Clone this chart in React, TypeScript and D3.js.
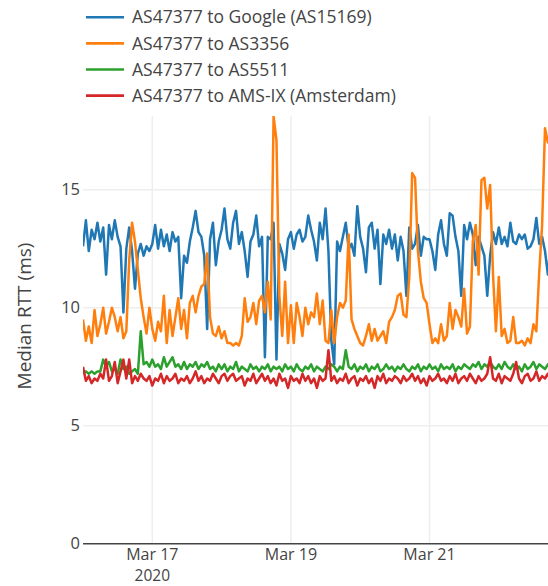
import React from "react";
import * as d3 from "d3";

const START = Date.UTC(2020, 2, 16, 0, 0);
const END = Date.UTC(2020, 2, 23, 0, 0);
const STEP_MS = 3600 * 1000;

const seriesNames = [
  "AS47377 to Google (AS15169)",
  "AS47377 to AS3356",
  "AS47377 to AS5511",
  "AS47377 to AMS-IX (Amsterdam)",
];
const seriesColors = ["#1f77b4", "#ff7f0e", "#2ca02c", "#d62728"];

const google = [
  12.6, 13.7, 12.4, 13.3, 12.9, 13.6, 12.8, 13.4, 11.4, 13.5, 12.9, 13.7, 13.0, 12.6, 9.8, 12.5, 13.4, 12.4, 10.8, 12.3,
  12.7, 12.2, 12.6, 12.4, 12.7, 13.5, 12.5, 13.3, 12.6, 13.1, 12.4, 13.2, 12.8, 13.0, 10.4, 12.2, 11.9, 12.8, 13.4, 14.1,
  13.2, 13.0, 12.2, 9.1, 12.9, 13.6, 11.8, 12.8, 13.3, 14.2, 12.9, 12.5, 13.6, 14.1, 12.7, 13.2, 12.4, 11.3, 12.8, 13.1,
  13.9, 12.6, 13.0, 7.9, 13.0, 12.9, 13.6, 7.8, 12.7, 12.3, 11.6, 12.9, 13.2, 12.5, 13.1, 13.3, 12.8, 13.0, 13.9, 13.3,
  12.8, 12.0, 13.6, 12.9, 14.2, 12.4, 8.6, 7.6, 12.8, 12.4, 13.0, 13.6, 12.5, 12.7, 12.2, 14.3, 13.0, 12.5, 11.5, 13.4,
  13.6, 12.5, 13.3, 11.0, 13.1, 12.7, 13.3, 12.5, 13.1, 12.0, 13.0, 12.4, 10.5, 13.4, 12.5, 12.7, 13.5, 12.2, 13.0, 12.9,
  12.9, 12.4, 11.6, 13.1, 13.7, 12.7, 12.2, 14.0, 13.9, 13.0, 12.4, 10.5, 13.5, 12.9, 13.6, 13.1, 11.8, 13.0, 12.6, 12.2,
  10.5, 12.2, 13.2, 12.7, 13.4, 12.7, 13.0, 12.6, 13.6, 12.8, 12.7, 13.1, 12.9, 13.1, 12.5, 12.6, 12.9, 13.8, 12.7, 13.0,
  12.4, 11.4, 12.8, 13.0, 12.7,
];

const as3356 = [
  9.5, 8.6, 9.2, 8.5, 9.9, 8.8, 9.3, 10.0, 8.9, 9.4, 10.0, 9.6, 9.0, 9.6, 8.7, 9.0, 12.0, 13.6, 12.8, 11.6,
  10.4, 9.6, 8.9, 10.0, 9.1, 8.6, 9.4, 9.0, 10.5, 8.5, 9.9, 8.8, 9.6, 10.4, 9.1, 9.9, 8.7, 10.2, 10.5, 9.8,
  10.5, 10.9, 11.0, 12.3, 9.6, 8.9, 8.8, 9.2, 8.7, 9.0, 8.5, 8.5, 8.4, 8.5, 8.4, 8.8, 10.4, 9.4, 9.6, 10.2,
  9.3, 10.3, 10.5, 9.8, 11.1, 9.5, 18.1, 17.1, 10.5, 8.8, 11.1, 8.5, 10.1, 8.5, 10.2, 9.6, 8.8, 10.0, 9.3, 9.8,
  9.6, 10.6, 9.3, 10.3, 8.6, 8.5, 9.9, 8.5, 9.6, 10.2, 10.0, 10.3, 13.1, 9.5, 9.1, 8.8, 8.5, 8.4, 8.8, 9.3,
  8.6, 9.1, 8.6, 8.8, 9.0, 8.5, 9.4, 9.6, 9.9, 10.5, 10.6, 9.7, 9.6, 11.3, 15.7, 15.5, 12.4, 11.1, 10.4, 10.2,
  9.3, 8.5, 8.7, 8.5, 9.3, 8.6, 8.8, 10.2, 9.1, 9.9, 9.6, 9.2, 10.8, 8.9, 9.2, 12.8, 13.5, 11.4, 15.4, 15.5,
  14.2, 15.2, 11.4, 9.0, 11.3, 8.8, 9.1, 8.5, 8.6, 9.6, 8.5, 8.5, 8.6, 8.4, 8.7, 8.5, 9.3, 9.0, 11.5, 13.5,
  17.6, 17.0, 17.2, 16.8, 17.1,
];

const as5511 = [
  7.2, 7.3, 7.2, 7.3, 7.2, 7.3, 7.3, 7.8, 7.5, 7.7, 7.3, 7.4, 7.2, 7.8, 7.4, 7.5, 7.2, 7.3, 7.4, 7.2,
  9.0, 7.6, 7.7, 7.5, 7.8, 7.5, 7.6, 7.4, 7.9, 7.5, 7.7, 7.9, 7.5, 7.6, 7.4, 7.7, 7.4, 7.6, 7.5, 7.7,
  7.4, 7.6, 7.5, 7.7, 7.4, 7.5, 7.3, 7.6, 7.4, 7.6, 7.3, 7.5, 7.4, 7.7, 7.3, 7.5, 7.4, 7.3, 7.6, 7.4,
  7.5, 7.3, 7.5, 7.4, 7.6, 7.3, 7.5, 7.4, 7.5, 7.3, 7.6, 7.4, 7.5, 7.3, 7.6, 7.4, 7.3, 7.5, 7.4, 7.6,
  7.3, 7.5, 7.4, 7.3, 7.5, 7.4, 7.6, 7.5, 7.3, 7.5, 7.4, 8.2, 7.5, 7.4, 7.6, 7.3, 7.5, 7.4, 7.6, 7.3,
  7.5, 7.4, 7.6, 7.3, 7.4, 7.6, 7.4, 7.5, 7.3, 7.5, 7.4, 7.6, 7.4, 7.3, 7.5, 7.4, 7.6, 7.3, 7.5, 7.4,
  7.6, 7.4, 7.5, 7.3, 7.6, 7.4, 7.5, 7.4, 7.6, 7.3, 7.5, 7.4, 7.6, 7.5, 7.4, 7.6, 7.5, 7.7, 7.4, 7.6,
  7.5, 7.7, 7.5, 7.4, 7.6, 7.4, 7.7, 7.5, 7.4, 7.6, 7.4, 7.5, 7.3, 7.6, 7.4, 7.5, 7.7, 7.4, 7.6, 7.5,
  7.4, 7.6, 7.5, 7.4, 7.5,
];

const amsix = [
  7.5, 6.9, 7.1, 6.8, 7.0, 6.9, 7.2, 7.0, 7.8, 6.9, 7.1, 7.7, 6.8, 7.3, 7.8, 7.0, 7.8, 6.8, 7.1, 6.9,
  7.2, 7.0, 6.9, 7.1, 6.7, 7.0, 6.9, 7.2, 6.8, 7.1, 6.9, 7.0, 7.2, 6.8, 7.0, 6.9, 7.1, 6.8, 7.0, 7.3,
  6.9, 7.1, 6.8, 7.0, 6.9, 7.2, 7.0, 6.8, 7.1, 7.2, 6.9, 7.1, 7.2, 6.9, 7.0, 7.1, 6.7, 7.0, 6.9, 7.2,
  6.8, 7.0, 7.2, 6.9, 7.1, 6.8, 7.0, 6.7, 7.2, 6.9, 7.0, 6.6, 7.1, 6.9, 7.0, 6.8, 7.2, 6.9, 7.1, 6.8,
  7.0, 6.6, 7.1, 6.9, 7.0, 8.2, 6.9, 7.1, 6.8, 7.0, 6.9, 7.2, 6.8, 7.0, 7.1, 6.7, 7.0, 6.9, 7.1, 6.8,
  7.0, 6.6, 7.1, 6.9, 7.2, 6.8, 7.0, 6.9, 7.1, 7.0, 6.8, 7.1, 6.9, 7.0, 7.2, 6.9, 7.1, 6.8, 7.0, 6.7,
  7.1, 6.9, 7.0, 7.2, 6.9, 7.0, 6.8, 7.1, 6.9, 7.2, 6.8, 7.0, 7.1, 6.9, 7.2, 7.0, 6.8, 7.1, 6.9, 7.0,
  7.2, 7.9, 7.0, 6.9, 7.2, 6.8, 7.1, 7.0, 6.9, 7.2, 7.7, 7.0, 6.8, 7.1, 7.2, 6.9, 7.0, 7.3, 6.9, 7.1,
  7.0, 7.2, 6.9, 7.1, 7.0,
];

const yTicks = [0, 5, 10, 15];
const xTickDates = [Date.UTC(2020, 2, 17), Date.UTC(2020, 2, 19), Date.UTC(2020, 2, 21)];
const xTickLabels = ["Mar 17", "Mar 19", "Mar 21"];
const yearLabel = "2020";
const yTitle = "Median RTT (ms)";

const W = 548;
const H = 586;
const FONT = '"Open Sans", verdana, arial, sans-serif';
const TXT = "#444";

export default function App() {
  const plotL = 83;
  const plotR = 83 + 7 * 69.3;
  const plotT = 116;
  const plotB = 543.7;

  const x = d3.scaleUtc().domain([new Date(START), new Date(END)]).range([plotL, plotR]);
  const y = d3.scaleLinear().domain([0, 18.12]).range([plotB, plotT]);

  const allSeries = [google, as3356, as5511, amsix];
  const line = d3
    .line<number>()
    .x((_, i) => x(new Date(START + i * STEP_MS)))
    .y((v) => y(v));

  return (
    <svg
      width={W}
      height={H}
      style={{ position: "absolute", left: 0, top: 0, background: "#fff" }}
      fontFamily={FONT}
    >
      <defs>
        <clipPath id="plotclip">
          <rect x={plotL} y={plotT} width={plotR - plotL} height={plotB - plotT} />
        </clipPath>
      </defs>
      {yTicks.filter((t) => t !== 0).map((t) => (
        <line key={"gy" + t} x1={plotL} x2={plotR} y1={y(t)} y2={y(t)} stroke="#eee" strokeWidth={1.5} />
      ))}
      {xTickDates.map((t) => (
        <line key={"gx" + t} x1={x(new Date(t))} x2={x(new Date(t))} y1={plotT} y2={plotB} stroke="#eee" strokeWidth={1.5} />
      ))}
      <g clipPath="url(#plotclip)">
        {allSeries.map((s, i) => (
          <path
            key={i}
            d={line(s) || ""}
            fill="none"
            stroke={seriesColors[i]}
            strokeWidth={2.5}
            strokeLinejoin="round"
          />
        ))}
      </g>
      <line x1={plotL} x2={plotR} y1={y(0)} y2={y(0)} stroke="#444" strokeWidth={1.5} />
      {yTicks.map((t) => (
        <text key={"ty" + t} x={80} y={y(t)} dy="0.35em" textAnchor="end" fontSize={16.5} fill={TXT}>
          {t}
        </text>
      ))}
      {xTickDates.map((t, i) => (
        <text key={"tx" + t} x={x(new Date(t))} y={560} textAnchor="middle" fontSize={16} fill={TXT}>
          {xTickLabels[i]}
        </text>
      ))}
      <text x={x(new Date(xTickDates[0]))} y={580.5} textAnchor="middle" fontSize={15.5} fill={TXT}>
        {yearLabel}
      </text>
      <text
        transform={`translate(31, 316) rotate(-90)`}
        textAnchor="middle"
        fontSize={19}
        fill={TXT}
      >
        {yTitle}
      </text>
      {seriesNames.map((n, i) => (
        <g key={"lg" + i} transform={`translate(0, ${17.3 + i * 26.1})`}>
          <line x1={86} x2={124} y1={0} y2={0} stroke={seriesColors[i]} strokeWidth={2.6} />
          <text x={132} y={0} dy="0.35em" fontSize={17.5} fill={TXT}>
            {n}
          </text>
        </g>
      ))}
    </svg>
  );
}
